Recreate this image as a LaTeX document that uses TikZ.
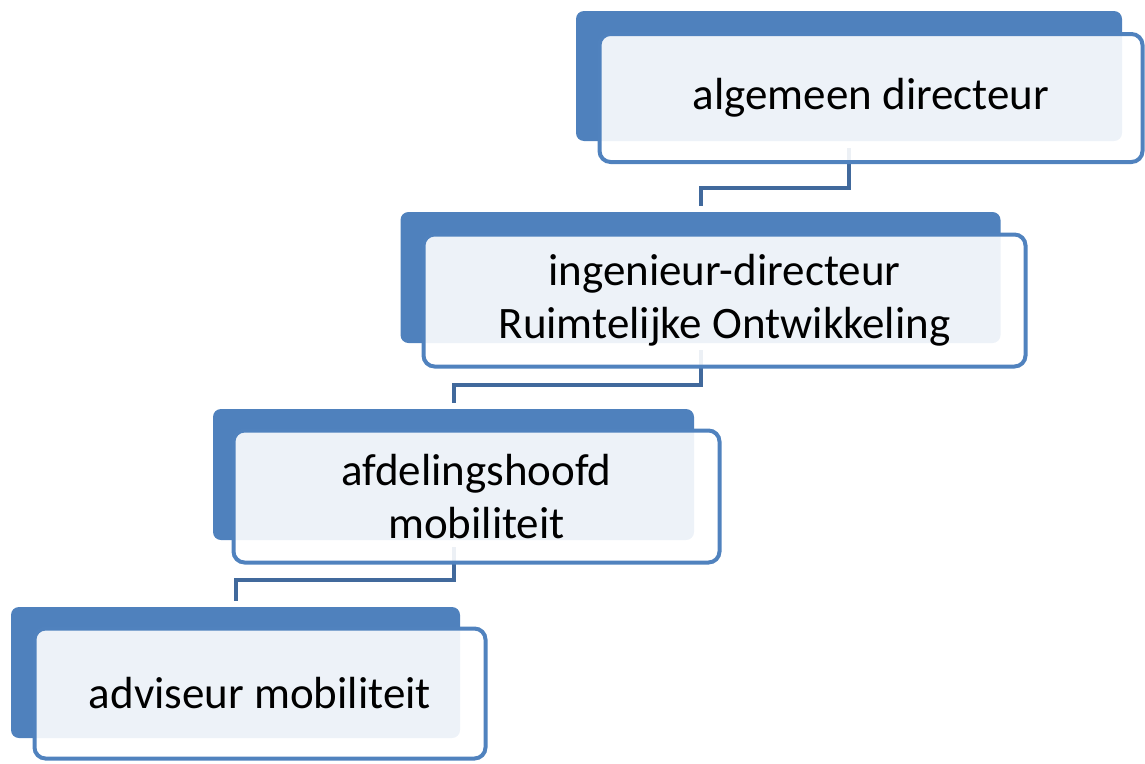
\documentclass[tikz,border=0pt]{standalone}
\usepackage{fontspec}
\setmainfont{Carlito}
\definecolor{boxblue}{HTML}{4F81BD}
\definecolor{lineblue}{HTML}{5082BE}
\definecolor{connblue}{HTML}{41699C}
\begin{document}
\begin{tikzpicture}[x=1pt,y=-1pt,
  bluebox/.style={fill=boxblue, draw=none, rounded corners=8pt, inner sep=0pt},
  framebox/.style={draw=lineblue, line width=4pt, fill=white, fill opacity=0.9, text opacity=1,
    rounded corners=11pt, inner sep=0pt, align=center, font=\fontsize{45}{53}\selectfont},
  conn/.style={draw=connblue, line width=4pt}]
\useasboundingbox (0,0) rectangle (1145,763);
% back (blue) boxes
\node[bluebox, minimum width=546pt, minimum height=130pt] (b1) at (849,76) {};
\node[bluebox, minimum width=600pt, minimum height=131pt] (b2) at (700.5,277.5) {};
\node[bluebox, minimum width=481pt, minimum height=131pt] (b3) at (453.5,474.5) {};
\node[bluebox, minimum width=449pt, minimum height=131pt] (b4) at (235.5,672.5) {};
% connectors
\draw[conn] ([yshift=-7pt]b1.south) |- ([yshift=24pt]b2.north) -- ([yshift=6pt]b2.north);
\draw[conn] ([yshift=-7pt]b2.south) |- ([yshift=24pt]b3.north) -- ([yshift=6pt]b3.north);
\draw[conn] ([yshift=-7pt]b3.south) |- ([yshift=27pt]b4.north) -- ([yshift=6pt]b4.north);
% front (framed) boxes with text
\node[framebox, minimum width=543pt, minimum height=128pt] (o1) at (871,98) {algemeen directeur};
\node[framebox, minimum width=602pt, minimum height=132pt] (o2) at (724.5,300.5) {ingenieur-directeur\\Ruimtelijke Ontwikkeling};
\node[framebox, minimum width=486pt, minimum height=132pt] (o3) at (476.5,496.5) {afdelingshoofd\\mobiliteit};
\node[framebox, minimum width=451pt, minimum height=130pt] (o4) at (260,693.5) {adviseur mobiliteit};
\end{tikzpicture}
\end{document}
